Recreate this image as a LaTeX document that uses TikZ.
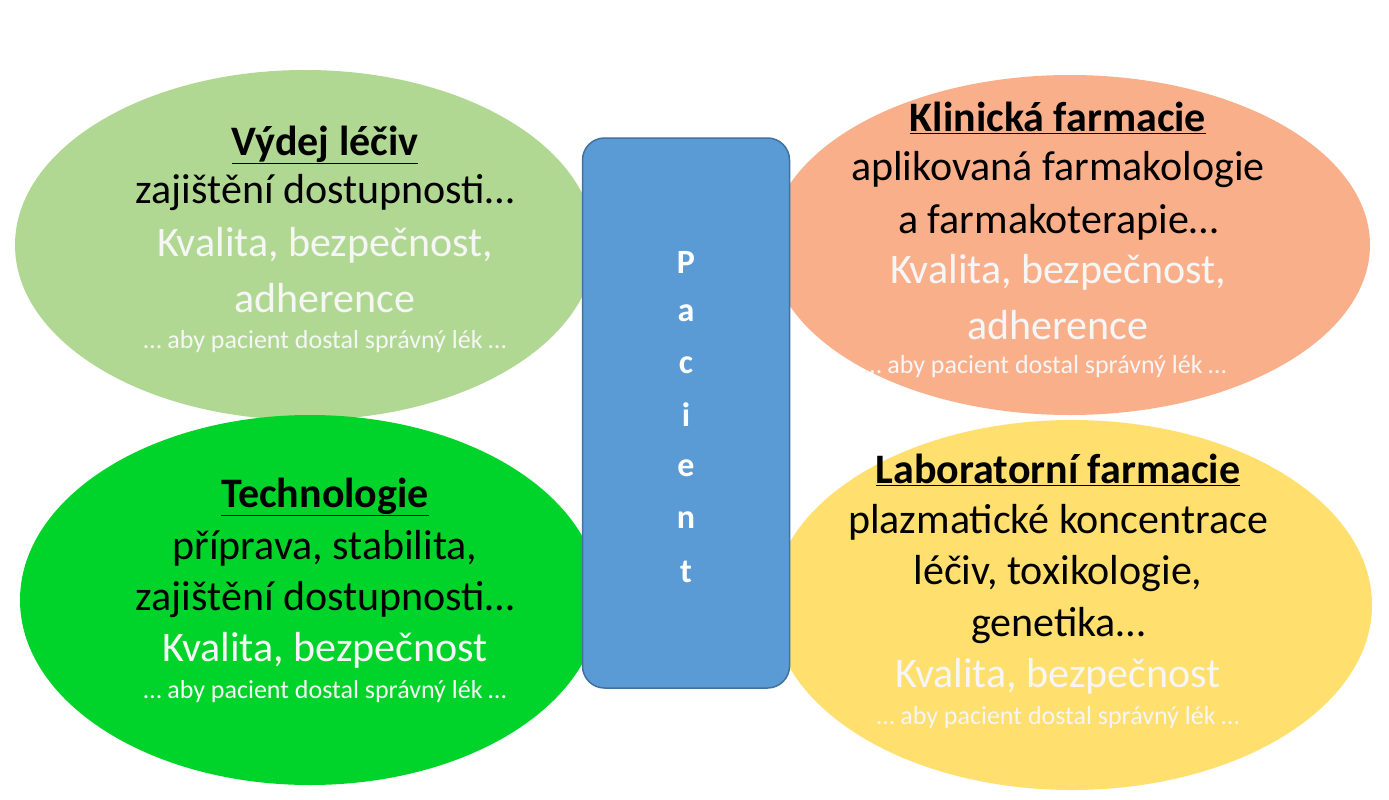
\documentclass[tikz,border=0pt]{standalone}
\usepackage{fontspec}
\setmainfont{Carlito}
\begin{document}
\begin{tikzpicture}[x=1pt,y=-1pt,
  blob/.style={draw=none},
  ttl/.style={font=\fontsize{42}{46}\selectfont\bfseries},
  blk/.style={font=\fontsize{42}{46}\selectfont,text=black},
  wht/.style={font=\fontsize{42}{46}\selectfont,text=white!93!gray},
  sml/.style={font=\fontsize{26}{28}\selectfont,text=white!93!gray},
  let/.style={font=\fontsize{34}{38}\selectfont\bfseries,text=white}]
\useasboundingbox (0,0) rectangle (1389,800);
\fill[white] (0,0) rectangle (1389,800);
\fill[blob,fill={rgb,255:red,176;green,216;blue,146}] (305,245) ellipse [x radius=290,y radius=175];
\fill[blob,fill={rgb,255:red,0;green,212;blue,42}] (310,600) ellipse [x radius=290,y radius=185];
\fill[blob,fill={rgb,255:red,249;green,176;blue,138}] (1070,245) ellipse [x radius=300,y radius=170];
\fill[blob,fill={rgb,255:red,255;green,223;blue,110}] (1072,605) ellipse [x radius=300,y radius=185];
\node[draw={rgb,255:red,65;green,113;blue,156},line width=1.5pt,fill={rgb,255:red,91;green,155;blue,213},rounded corners=22pt,minimum width=207pt,minimum height=550pt] (pac) at (686,413) {};
\foreach \c/\y [count=\i] in {P/262,a/313,c/365,i/415,e/468,n/520,t/572}
  \node[let] (p\i) at (686,\y) {\c};
% TL
\node[ttl] (t1) at (325,145) {\underline{Výdej léčiv}};
\node[blk] (t1a) at (325,193) {zajištění dostupnosti…};
\node[wht] (t1b) at (325,245) {Kvalita, bezpečnost,};
\node[wht] (t1c) at (325,298) {adherence};
\node[sml] (t1d) at (325,342) {… aby pacient dostal správný lék …};
% BL
\node[ttl] (t2) at (325,497) {\underline{Technologie}};
\node[blk] (t2a) at (325,548) {příprava, stabilita,};
\node[blk] (t2b) at (325,600) {zajištění dostupnosti…};
\node[wht] (t2c) at (325,650) {Kvalita, bezpečnost};
\node[sml] (t2d) at (325,692) {… aby pacient dostal správný lék …};
% TR
\node[ttl] (t3) at (1058,118) {\underline{Klinická farmacie}};
\node[blk] (t3a) at (1058,170) {aplikovaná farmakologie};
\node[blk] (t3b) at (1058,222) {a farmakoterapie…};
\node[wht] (t3c) at (1058,272) {Kvalita, bezpečnost,};
\node[wht] (t3d) at (1058,325) {adherence};
\node[sml] (t3e) at (1045,367) {… aby pacient dostal správný lék …};
% BR
\node[ttl] (t4) at (1058,470) {\underline{Laboratorní farmacie}};
\node[blk] (t4a) at (1058,522) {plazmatické koncentrace};
\node[blk] (t4b) at (1058,574) {léčiv, toxikologie,};
\node[blk] (t4c) at (1058,626) {genetika…};
\node[wht] (t4d) at (1058,676) {Kvalita, bezpečnost};
\node[sml] (t4e) at (1058,718) {… aby pacient dostal správný lék …};
\end{tikzpicture}
\end{document}
